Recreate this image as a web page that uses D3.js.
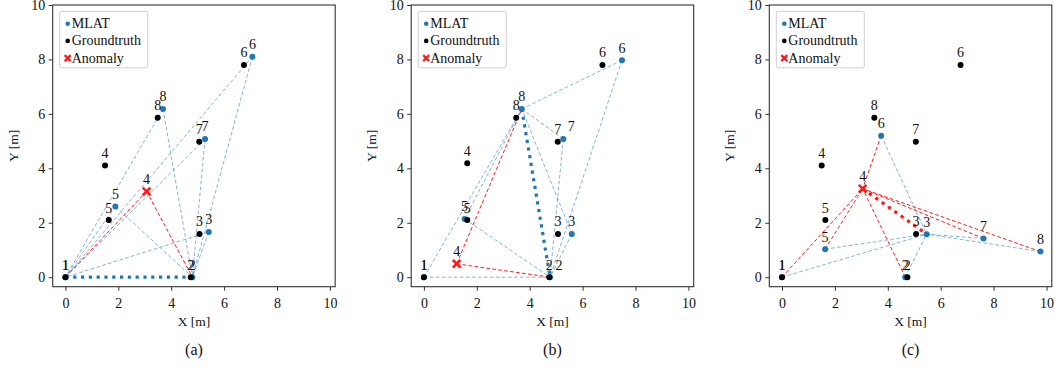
<!DOCTYPE html>
<html>
<head>
<meta charset="utf-8">
<script src="https://cdn.jsdelivr.net/npm/d3@7"></script>
<style>
  body { margin: 0; background: #fff; }
  svg text { font-family: "Liberation Serif", "DejaVu Serif", serif; fill: #111; }
</style>
</head>
<body>
<div id="chart"></div>
<script>
// node ids, shared by all three panels
const nodeIds = [1, 2, 3, 4, 5, 6, 7, 8];
const anomalyNode = 4;

// groundtruth positions [m]
const gtX = [0, 4.74, 5.07, 1.5, 1.64, 6.75, 5.06, 3.49];
const gtY = [0, 0, 1.59, 4.1, 2.1, 7.8, 4.98, 5.86];
const gtXB = [0, 4.74, 5.07, 1.64, 1.64, 6.75, 5.06, 3.49];
const gtYB = [0, 0, 1.59, 4.19, 2.1, 7.8, 4.98, 5.86];

// MLAT estimates per panel
const mlatAX = [0, 4.8, 5.42, 3.07, 1.89, 7.07, 5.28, 3.69];
const mlatAY = [0, 0, 1.66, 3.15, 2.6, 8.1, 5.08, 6.18];
const mlatBX = [0, 4.77, 5.59, 1.24, 1.54, 7.49, 5.27, 3.7];
const mlatBY = [0, 0, 1.59, 0.49, 2.14, 7.97, 5.08, 6.18];
const mlatCX = [0, 4.66, 5.47, 3.05, 1.63, 3.75, 7.62, 9.77];
const mlatCY = [0, 0, 1.58, 3.25, 1.03, 5.2, 1.42, 0.94];

// the two reference nodes every other node is linked to
const anchorsA = [1, 2];
const anchorsB = [8, 2];
const anchorsC = [4, 3];

const xTicks = [0, 2, 4, 6, 8, 10];
const yTicks = [0, 2, 4, 6, 8, 10];
const captions = ['(a)', '(b)', '(c)'];
const legendLabels = ['MLAT', 'Groundtruth', 'Anomaly'];

const blue = '#1f77b4';
const red = '#ff1a1a';
const serif = '"Liberation Serif", "DejaVu Serif", serif';

const W = 1055, H = 368;
const plotTop = 5, plotH = 281.7, plotW = 282.5;
const lefts = [52.7, 411.2, 769.3];

const svg = d3.select('#chart').append('svg')
  .attr('width', W)
  .attr('height', H)
  .attr('font-family', serif);

svg.append('rect').attr('width', W).attr('height', H).attr('fill', '#fff');

const xScale = d3.scaleLinear().domain([-0.48, 10.2]).range([0, plotW]);
const yScale = d3.scaleLinear().domain([-0.35, 10]).range([plotH, 0]);

const zip = (xs, ys) => nodeIds.map((id, i) => ({id: id, x: xs[i], y: ys[i]}));

const panels = [
  {mlat: zip(mlatAX, mlatAY), gt: zip(gtX, gtY), anchors: anchorsA, shift: {}},
  {mlat: zip(mlatBX, mlatBY), gt: zip(gtXB, gtYB), anchors: anchorsB, shift: {7: 8, 2: 9}},
  {mlat: zip(mlatCX, mlatCY), gt: zip(gtX, gtY), anchors: anchorsC, shift: {}}
];

function crossPath(s) {
  return `M${-s},${-s}L${s},${s}M${-s},${s}L${s},${-s}`;
}

panels.forEach((p, k) => {
  const g = svg.append('g').attr('transform', `translate(${lefts[k]}, ${plotTop})`);
  const byId = {};
  p.mlat.forEach((d) => byId[d.id] = d);

  // axes
  const xAxis = g.append('g')
    .attr('transform', `translate(0, ${plotH})`)
    .call(d3.axisBottom(xScale).tickValues(xTicks).tickSize(4).tickPadding(7).tickSizeOuter(0));
  const yAxis = g.append('g')
    .call(d3.axisLeft(yScale).tickValues(yTicks).tickSize(4).tickPadding(3.5).tickSizeOuter(0));
  [xAxis, yAxis].forEach((a) => {
    a.attr('font-family', serif).attr('font-size', 14);
    a.select('.domain').remove();
    a.selectAll('line').attr('stroke', '#333');
    a.selectAll('text').attr('fill', '#222');
  });

  // edges: every node to both anchors
  const [a1, a2] = p.anchors;
  const edges = [];
  p.mlat.forEach((d) => {
    if (d.id === a1 || d.id === a2) return;
    edges.push([d.id, a1], [d.id, a2]);
  });
  const isRed = (e) => e[0] === anomalyNode || e[1] === anomalyNode;

  g.selectAll('.edge')
    .data(edges.filter((e) => !isRed(e)))
    .enter()
    .append('line')
    .attr('x1', (e) => xScale(byId[e[0]].x))
    .attr('y1', (e) => yScale(byId[e[0]].y))
    .attr('x2', (e) => xScale(byId[e[1]].x))
    .attr('y2', (e) => yScale(byId[e[1]].y))
    .attr('stroke', blue)
    .attr('stroke-opacity', 0.55)
    .attr('stroke-width', 1)
    .attr('stroke-dasharray', '3.7,2.3');

  g.selectAll('.edge-red')
    .data(edges.filter(isRed))
    .enter()
    .append('line')
    .attr('x1', (e) => xScale(byId[e[0]].x))
    .attr('y1', (e) => yScale(byId[e[0]].y))
    .attr('x2', (e) => xScale(byId[e[1]].x))
    .attr('y2', (e) => yScale(byId[e[1]].y))
    .attr('stroke', red)
    .attr('stroke-width', 1)
    .attr('stroke-dasharray', '3.7,2.3');

  // anchor-to-anchor link
  const anchorRed = a1 === anomalyNode || a2 === anomalyNode;
  g.append('line')
    .attr('x1', xScale(byId[a1].x))
    .attr('y1', yScale(byId[a1].y))
    .attr('x2', xScale(byId[a2].x))
    .attr('y2', yScale(byId[a2].y))
    .attr('stroke', anchorRed ? red : blue)
    .attr('stroke-width', 3.2)
    .attr('stroke-dasharray', '3.2,4.6');

  // MLAT points (anomaly drawn separately)
  g.selectAll('.mlat')
    .data(p.mlat.filter((d) => d.id !== anomalyNode))
    .enter()
    .append('circle')
    .attr('cx', (d) => xScale(d.x))
    .attr('cy', (d) => yScale(d.y))
    .attr('r', 3)
    .attr('fill', blue);

  g.selectAll('.gt')
    .data(p.gt)
    .enter()
    .append('circle')
    .attr('cx', (d) => xScale(d.x))
    .attr('cy', (d) => yScale(d.y))
    .attr('r', 3)
    .attr('fill', '#000');

  const an = byId[anomalyNode];
  g.append('path')
    .attr('transform', `translate(${xScale(an.x)}, ${yScale(an.y)})`)
    .attr('d', crossPath(3.8))
    .attr('stroke', red)
    .attr('stroke-width', 2.6)
    .attr('fill', 'none');

  // number labels
  const labelData = p.gt.map((d) => ({d: d, dx: 0}))
    .concat(p.mlat.map((d) => ({d: d, dx: p.shift[d.id] || 0})));
  g.selectAll('.lbl')
    .data(labelData)
    .enter()
    .append('text')
    .attr('x', (l) => xScale(l.d.x) + l.dx)
    .attr('y', (l) => yScale(l.d.y) - 7.5)
    .attr('text-anchor', 'middle')
    .attr('font-size', 14)
    .text((l) => l.d.id);

  // frame
  g.append('rect')
    .attr('width', plotW)
    .attr('height', plotH)
    .attr('fill', 'none')
    .attr('stroke', '#333')
    .attr('stroke-width', 1.1);

  // legend
  const lg = g.append('g').attr('transform', 'translate(7, 6.3)');
  lg.append('rect')
    .attr('width', 88)
    .attr('height', 56.5)
    .attr('rx', 2)
    .attr('fill', '#fff')
    .attr('fill-opacity', 0.8)
    .attr('stroke', '#d0d0d0')
    .attr('stroke-width', 1);
  legendLabels.forEach((t, i) => {
    const cy = 12.4 + i * 17.2;
    if (i < 2) {
      lg.append('circle').attr('cx', 8).attr('cy', cy).attr('r', 2.3)
        .attr('fill', i === 0 ? blue : '#000');
    } else {
      lg.append('path').attr('transform', `translate(8, ${cy})`)
        .attr('d', crossPath(3)).attr('stroke', red).attr('stroke-width', 2.2);
    }
    lg.append('text').attr('x', 12).attr('y', cy + 4.5)
      .attr('font-size', 14).text(t);
  });

  // axis titles and caption
  g.append('text')
    .attr('x', plotW / 2)
    .attr('y', plotH + 39.5)
    .attr('text-anchor', 'middle')
    .attr('font-size', 13.5)
    .text('X [m]');
  g.append('text')
    .attr('transform', `translate(-35, ${plotH / 2}) rotate(-90)`)
    .attr('text-anchor', 'middle')
    .attr('font-size', 13.5)
    .text('Y [m]');
  g.append('text')
    .attr('x', plotW / 2)
    .attr('y', plotH + 68.5)
    .attr('text-anchor', 'middle')
    .attr('font-size', 16)
    .text(captions[k]);
});
</script>
</body>
</html>
